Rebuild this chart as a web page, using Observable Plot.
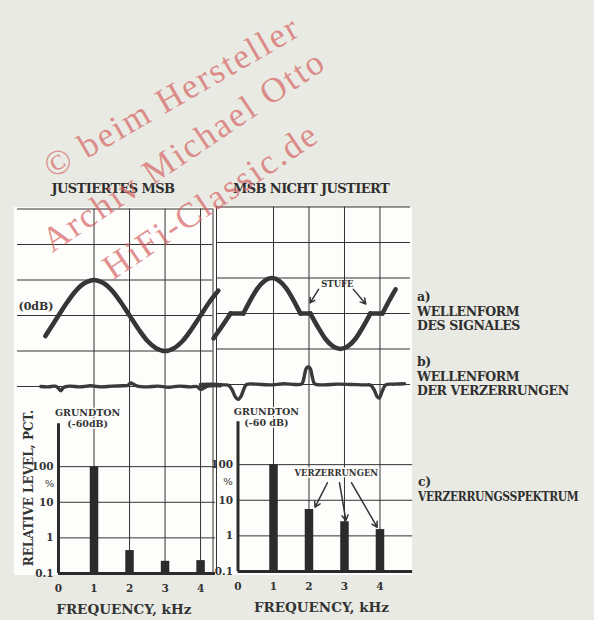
<!DOCTYPE html>
<html><head><meta charset="utf-8">
<script src="https://cdn.jsdelivr.net/npm/d3@7"></script>
<script src="https://cdn.jsdelivr.net/npm/@observablehq/plot@0.6"></script>
<style>
body{margin:0;background:#e9eae3;}
#page{position:relative;width:594px;height:620px;overflow:hidden;background:#e9eae3;font-family:"DejaVu Serif",serif;font-weight:bold;color:#2f2f2f;}
.white{position:absolute;left:14px;top:207px;width:398px;height:368px;background:#fdfdfb;}
.title{position:absolute;white-space:nowrap;font-size:13px;letter-spacing:-0.6px;transform:translate(-50%,-50%);}
.side{position:absolute;white-space:nowrap;font-size:12.5px;line-height:14.5px;letter-spacing:-0.4px;}
.squeeze{display:inline-block;transform:scaleX(0.86);transform-origin:left center;}
.wm{position:absolute;white-space:nowrap;font-family:"Liberation Serif",serif;font-weight:normal;color:rgba(214,96,96,0.7);font-size:35px;letter-spacing:2.2px;}
svg{position:absolute;}
</style></head><body>
<div id="page">
  <div class="white"></div>
  <div class="title" style="left:113px;top:188px">JUSTIERTES MSB</div>
  <div class="title" style="left:311px;top:188px">MSB NICHT JUSTIERT</div>
  <div class="side" style="left:417px;top:290px">a)<br>WELLENFORM<br>DES SIGNALES</div>
  <div class="side" style="left:417px;top:355px">b)<br>WELLENFORM<br>DER VERZERRUNGEN</div>
  <div class="side" style="left:418px;top:475px">c)<br><span class="squeeze">VERZERRUNGSSPEKTRUM</span></div>
</div>
<script>
// ---------- data ----------
const freqs = [0, 1, 2, 3, 4];                 // kHz
const harmonics = [1, 2, 3, 4];
const yTicks = [0.1, 1, 10, 100];
const levelsJust = [100, 0.44, 0.22, 0.23];    // relative level % at 1..4 kHz
const levelsNicht = [100, 5.5, 2.5, 1.5];
const gridLevels = [3, 2, 1, 0, -1, -2];

// a) waveform, justiert (grid units, 1 division = 1)
const waveJustX = [-0.37, 0, 0.25, 0.5, 0.75, 1, 1.25, 1.5, 1.75, 2, 2.25, 2.5, 2.75, 3, 3.25, 3.5, 3.75, 4, 4.25, 4.5];
const waveJustY = [-0.58, 0, 0.38, 0.71, 0.92, 1, 0.92, 0.71, 0.38, 0, -0.38, -0.71, -0.92, -1, -0.92, -0.71, -0.38, 0, 0.38, 0.7];

// a) waveform, nicht justiert (pieces with flat steps)
const waveNichtX   = [-0.69, -0.45, -0.21,  -0.21, 0.15,  0.15, 0.35, 0.55, 0.75, 0.955, 1.16, 1.36, 1.56, 1.76,  1.76, 2.04,  2.04, 2.25, 2.46, 2.67, 2.885, 3.1, 3.31, 3.52, 3.73,  3.73, 4.07,  4.07, 4.27, 4.44];
const waveNichtY   = [-0.70, -0.36, 0,      0, 0,         0, 0.38, 0.71, 0.92, 1, 0.92, 0.71, 0.38, 0,               0, 0,        0, -0.38, -0.71, -0.92, -1, -0.92, -0.71, -0.38, 0,          0, 0,        0, 0.38, 0.68];
const waveNichtSeg = [0, 0, 0,  1, 1,  2, 2, 2, 2, 2, 2, 2, 2, 2,  3, 3,  4, 4, 4, 4, 4, 4, 4, 4, 4,  5, 5,  6, 6, 6];

// b) distortion waveforms
const distJustX = [-0.5, -0.3, -0.1, -0.02, 0.06, 0.14, 0.3, 0.6, 0.9, 1.2, 1.5, 1.8, 1.95, 2.03, 2.1, 2.2, 2.5, 2.8, 3.1, 3.4, 3.7, 3.9, 4.0, 4.08, 4.2, 4.56];
const distJustY = [-2.0, -2.01, -1.99, -2.03, -2.12, -2.03, -1.99, -2.01, -1.98, -2.01, -1.99, -1.98, -1.97, -1.9, -1.93, -1.98, -2.01, -1.99, -2.02, -1.99, -2.01, -2.0, -2.08, -2.05, -1.99, -1.98];
const distNichtX = [-1.06, -0.7, -0.4, -0.27, -0.17, -0.08, 0, 0.08, 0.16, 0.24, 0.5, 0.9, 1.3, 1.6, 1.8, 1.86, 1.92, 1.98, 2.04, 2.1, 2.16, 2.4, 2.8, 3.2, 3.6, 3.74, 3.84, 3.92, 3.98, 4.06, 4.16, 4.4, 4.69];
const distNichtY = [-2.0, -1.99, -2.01, -2.02, -2.14, -2.34, -2.42, -2.34, -2.14, -2.0, -1.99, -2.01, -1.98, -2.0, -1.98, -1.8, -1.55, -1.5, -1.56, -1.82, -1.98, -2.01, -1.99, -2.0, -2.01, -2.02, -2.16, -2.34, -2.38, -2.2, -2.01, -1.99, -1.98];

// annotations (data units)
const stufeArrows = [{x1: 2.27, y1: 0.68, x2: 2.03, y2: 0.3}, {x1: 3.25, y1: 0.68, x2: 3.6, y2: 0.27}];
const grundJust = [{x: 0.82, y: 3300, t: "GRUNDTON"}, {x: 0.82, y: 1620, t: "(-60dB)"}];
const grundNicht = [{x: 0.8, y: 3000, t: "GRUNDTON"}, {x: 0.8, y: 1480, t: "(-60 dB)"}];
const verzArrows = [{x1: 2.52, y1: 31, x2: 2.17, y2: 6.4}, {x1: 2.86, y1: 31, x2: 3.04, y2: 2.7}, {x1: 3.2, y1: 31, x2: 3.92, y2: 1.75}];

// ---------- build ----------
const ink = "#333";
const font = "DejaVu Serif";
const page = document.getElementById("page");
const zip = (xs, ys, extra) => xs.map((x, i) => ({x, y: ys[i], s: extra ? extra[i] : 0}));
const spec = (levels) => levels.map((v, i) => ({f: harmonics[i], v}));
const txt = {fontFamily: font, fontWeight: "bold", fill: ink};

function place(svg, left, top) {
  svg.style.left = left + "px"; svg.style.top = top + "px";
  page.appendChild(svg);
}

function topPanel({xDomain, width, marginLeft, marginRight, border, wave, waveOpts, dist, extra}) {
  return Plot.plot({
    width, height: 200, marginLeft, marginRight, marginTop: 8.5, marginBottom: 0,
    x: {domain: xDomain, axis: null},
    y: {domain: [-2.394, 3], axis: null},
    style: {background: "transparent", overflow: "visible", color: ink},
    marks: [
      Plot.ruleY(gridLevels, {stroke: ink, strokeWidth: 1}),
      Plot.ruleX(harmonics, {stroke: ink, strokeWidth: 1}),
      Plot.ruleX([border], {stroke: ink, strokeWidth: 1}),
      Plot.line(dist, {x: "x", y: "y", curve: "catmull-rom", stroke: "#3a3a3a", strokeWidth: 3.4}),
      Plot.line(wave, {x: "x", y: "y", stroke: "#363636", strokeWidth: 4.6, ...waveOpts}),
      ...extra
    ]
  });
}

function bottomPanel({xMax, baseEnd, width, marginLeft, marginRight, border, levels, notes, pctDx, extra}) {
  return Plot.plot({
    width, height: 220, marginLeft, marginRight, marginTop: 0, marginBottom: 47,
    x: {domain: [0, xMax], axis: null},
    y: {type: "log", domain: [0.1, 7200], axis: null},
    style: {background: "transparent", overflow: "visible", color: ink},
    marks: [
      Plot.ruleX(harmonics, {stroke: ink, strokeWidth: 1}),
      Plot.ruleX([border], {stroke: ink, strokeWidth: 1}),
      Plot.ruleY(yTicks.slice(1), {x1: 0, x2: baseEnd, stroke: ink, strokeWidth: 1}),
      Plot.ruleX(spec(levels), {x: "f", y1: 0.1, y2: "v", stroke: "#2b2b2b", strokeWidth: 8.5}),
      Plot.ruleX([0], {y1: 0.1, y2: 1600, stroke: "#2b2b2b", strokeWidth: 3}),
      Plot.ruleY([0.1], {x1: 0, x2: baseEnd, stroke: "#2b2b2b", strokeWidth: 3}),
      Plot.axisY({ticks: yTicks, tickFormat: d => String(d), tickSize: 0, tickPadding: 5, label: null,
        fontSize: 10.5, fontFamily: font, fontWeight: "bold"}),
      Plot.text(["%"], {x: 0, y: 33, dx: pctDx, fontSize: 10, ...txt, fontWeight: "normal"}),
      Plot.axisX({ticks: freqs, tickFormat: d => String(d), tickSize: 0, tickPadding: 11, label: null,
        fontSize: 10.5, fontFamily: font, fontWeight: "bold"}),
      Plot.text(notes, {x: "x", y: "y", text: "t", fontSize: 9.5, ...txt, stroke: "#fdfdfb", strokeWidth: 3}),
      ...extra
    ]
  });
}

// left column
place(topPanel({
  xDomain: [-1.155, 4.35], width: 220, marginLeft: 17, marginRight: 7.5, border: 4.35,
  wave: zip(waveJustX, waveJustY), waveOpts: {curve: "catmull-rom"},
  dist: zip(distJustX, distJustY),
  extra: [Plot.text(["(0dB)"], {frameAnchor: "left", y: 0, dx: 1, dy: -9, textAnchor: "start", fontSize: 11, ...txt})]
}), 0, 200);

place(bottomPanel({
  xMax: 4.35, baseEnd: 4.42, width: 220, marginLeft: 58, marginRight: 7.5, border: 4.35,
  levels: levelsJust, notes: grundJust, pctDx: -9,
  extra: [
    Plot.text(["RELATIVE LEVEL, PCT."], {x: 0, y: 25, dx: -29, textAnchor: "middle", rotate: -90, fontSize: 12, ...txt}),
    Plot.text(["FREQUENCY, kHz"], {x: 1.84, frameAnchor: "bottom", dy: 40, fontSize: 13.5, ...txt})
  ]
}), 0, 400);

// right column
place(topPanel({
  xDomain: [-0.606, 4.86], width: 230, marginLeft: 16, marginRight: 20, border: -0.606,
  wave: zip(waveNichtX, waveNichtY, waveNichtSeg),
  waveOpts: {z: "s", curve: "monotone-x", strokeLinecap: "round", strokeLinejoin: "round"},
  dist: zip(distNichtX, distNichtY),
  extra: [
    Plot.text(["STUFE"], {x: 2.8, y: 0.82, fontSize: 8.5, ...txt}),
    Plot.arrow(stufeArrows, {x1: "x1", y1: "y1", x2: "x2", y2: "y2", stroke: ink, strokeWidth: 1.5, headLength: 6, bend: false})
  ]
}), 200, 198);

place(bottomPanel({
  xMax: 4.86, baseEnd: 4.92, width: 230, marginLeft: 37.5, marginRight: 20, border: -0.606,
  levels: levelsNicht, notes: grundNicht, pctDx: -10,
  extra: [
    Plot.text(["VERZERRUNGEN"], {x: 2.77, y: 56, fontSize: 8.5, ...txt, stroke: "#fdfdfb", strokeWidth: 3}),
    Plot.arrow(verzArrows, {x1: "x1", y1: "y1", x2: "x2", y2: "y2", stroke: ink, strokeWidth: 1.5, headLength: 6}),
    Plot.text(["FREQUENCY, kHz"], {x: 2.35, frameAnchor: "bottom", dy: 40, fontSize: 13.5, ...txt})
  ]
}), 200, 398);

// watermark
const marks = [
  {t: "© beim Hersteller", cx: 172, cy: 97, r: -30},
  {t: "Archiv Michael Otto", cx: 184, cy: 151, r: -34},
  {t: "HiFi-Classic.de", cx: 211, cy: 201, r: -34}
];
marks.forEach(m => {
  const d = document.createElement("div");
  d.className = "wm";
  d.textContent = m.t;
  d.style.left = m.cx + "px"; d.style.top = m.cy + "px";
  d.style.transform = `translate(-50%,-50%) rotate(${m.r}deg)`;
  page.appendChild(d);
});
</script>
</body></html>
